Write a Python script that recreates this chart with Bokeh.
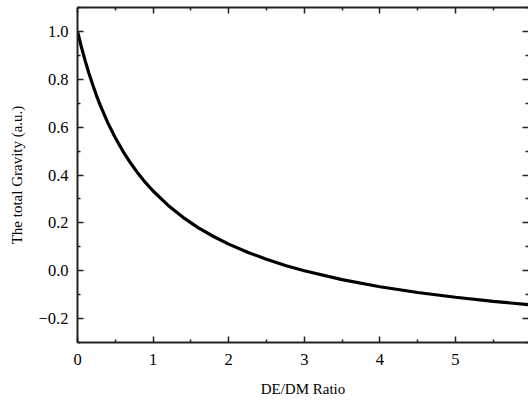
from bokeh.plotting import figure
from bokeh.models import LinearAxis, FixedTicker, Range1d, CustomLabelingPolicy
from bokeh.embed import file_html
from bokeh.resources import INLINE

# Data
ratio = [0.0, 0.05, 0.1, 0.15, 0.2, 0.25, 0.3, 0.4, 0.5, 0.6, 0.7, 0.8, 0.9, 1.0,
         1.2, 1.4, 1.6, 1.8, 2.0, 2.25, 2.5, 2.75, 3.0, 3.5, 4.0, 4.5, 5.0, 5.5, 6.0]
gravity = [1.0, 0.937, 0.879, 0.826, 0.778, 0.733, 0.692, 0.619, 0.556, 0.5, 0.451,
           0.407, 0.368, 0.333, 0.273, 0.222, 0.179, 0.143, 0.111, 0.077, 0.048,
           0.022, 0.0, -0.037, -0.067, -0.091, -0.111, -0.128, -0.143]

x_ticks = [0, 1, 2, 3, 4, 5, 6]
x_minor = [0.5, 1.5, 2.5, 3.5, 4.5, 5.5]
y_ticks = [-0.2, 0.0, 0.2, 0.4, 0.6, 0.8, 1.0]
y_minor = [-0.3, -0.1, 0.1, 0.3, 0.5, 0.7, 0.9, 1.1]
y_labels = ["\u22120.2", "0.0", "0.2", "0.4", "0.6", "0.8", "1.0"]

FONT = "Liberation Serif"
AX = "#222222"

HIDE_CODE = """
try {
  for (const i of Array.from(indices)) { indices.unset(i); }
} catch (e) {}
return indices;
"""

p = figure(width=528, height=402, output_backend="svg", toolbar_location=None,
           x_range=Range1d(0, 5.966), y_range=Range1d(-0.3, 1.1),
           min_border_left=77, min_border_right=0, min_border_top=7,
           min_border_bottom=60)
p.outline_line_color = None
p.xgrid.visible = False
p.ygrid.visible = False

p.line(ratio, gravity, line_color="black", line_width=3.2)

def style(ax, ticks, minor, show_labels):
    ax.ticker = FixedTicker(ticks=ticks, minor_ticks=minor)
    ax.axis_line_color = AX
    ax.axis_line_width = 2
    ax.major_tick_line_color = AX
    ax.major_tick_line_width = 1.5
    ax.minor_tick_line_color = AX
    ax.minor_tick_line_width = 1.5
    ax.major_tick_in = 6
    ax.major_tick_out = 0
    ax.minor_tick_in = 3
    ax.minor_tick_out = 0
    ax.major_label_text_font = FONT
    ax.major_label_text_font_size = "16.5px"
    ax.major_label_text_color = "black"
    ax.axis_label_text_font = FONT
    ax.axis_label_text_font_size = "15px"
    ax.axis_label_text_font_style = "normal"
    ax.axis_label_text_color = "black"
    if not show_labels:
        ax.major_label_policy = CustomLabelingPolicy(code=HIDE_CODE)
        ax.major_label_overrides = {t: "" for t in ticks}
        ax.major_label_standoff = 0

xa = p.xaxis[0]
style(xa, x_ticks, x_minor, True)
xa.axis_label = "DE/DM Ratio"
xa.major_label_standoff = 11
xa.axis_label_standoff = 13

ya = p.yaxis[0]
style(ya, y_ticks, y_minor, True)
ya.axis_label = "The total Gravity (a.u.)"
ya.major_label_standoff = 9
ya.axis_label_standoff = 11
ya.major_label_overrides = {t: l for t, l in zip(y_ticks, y_labels)}

top = LinearAxis()
style(top, x_ticks, x_minor, False)
p.add_layout(top, "above")

right = LinearAxis()
style(right, y_ticks, y_minor, False)
right.axis_line_color = None
p.add_layout(right, "right")

open("out.html", "w").write(file_html(p, INLINE))
